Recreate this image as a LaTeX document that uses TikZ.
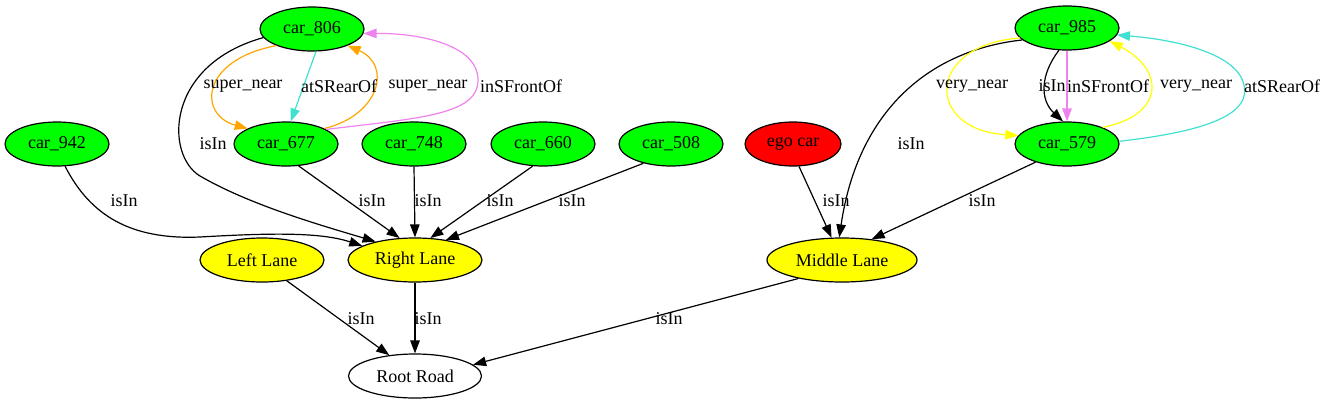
\documentclass[tikz,border=0pt]{standalone}
\usepackage{fontspec}
\setmainfont{Liberation Serif}
\usetikzlibrary{shapes.geometric,arrows.meta}
\definecolor{gvgreen}{HTML}{00FF00}
\definecolor{gvyellow}{HTML}{FFFF00}
\definecolor{gvred}{HTML}{FF0000}
\definecolor{gvorange}{HTML}{FFA500}
\definecolor{gvturq}{HTML}{40E0D0}
\definecolor{gvviolet}{HTML}{EE82EE}
\begin{document}
\begin{tikzpicture}[x=1pt,y=-1pt,
  every node/.style={font=\fontsize{18}{20}\selectfont},
  gnode/.style={ellipse,draw=black,line width=1.2pt,inner sep=0pt,minimum height=44pt,minimum width=104pt},
  car/.style={gnode,fill=gvgreen},
  lane/.style={gnode,fill=gvyellow},
  edge/.style={line width=1.2pt,-{Triangle[length=13pt,width=9.5pt]}},
  lbl/.style={inner sep=0pt}
]
\useasboundingbox (0,0) rectangle (1327,407);
% nodes
\node[car] (n806) at (312,29) {car\_806};
\node[car] (n677) at (286,144) {car\_677};
\node[car] (n748) at (414,144) {car\_748};
\node[car] (n660) at (543,144) {car\_660};
\node[car] (n508) at (671,144) {car\_508};
\node[car] (n942) at (57,144) {car\_942};
\node[gnode,fill=gvred,minimum width=96pt] (ego) at (793,144) {ego car};
\node[car] (n985) at (1067,28) {car\_985};
\node[car] (n579) at (1067,144) {car\_579};
\node[lane,minimum width=124pt] (LL) at (262,260) {Left Lane};
\node[lane,minimum width=134pt] (RL) at (415,260) {Right Lane};
\node[lane,minimum width=150pt] (ML) at (842,260) {Middle Lane};
\node[gnode,fill=white,minimum width=133pt] (RR) at (415,376) {Root Road};
% left cluster edges
\draw[edge,gvorange] (n806.205) .. controls (200,60) and (198,115) .. (n677.158);
\draw[edge,gvturq] (n806.-80) -- (n677.78);
\draw[edge,gvorange] (n677.22) .. controls (380,115) and (392,65) .. (n806.-25);
\draw[edge,gvviolet] (n677.20) .. controls (420,118) and (478,115) .. (478,80) .. controls (478,45) and (420,33) .. (n806.-5);
\draw[edge] (n806.190) .. controls (165,65) and (165,155) .. (200,176) .. controls (250,205) and (320,225) .. (RL.155);
\draw[edge] (n942.-70) .. controls (90,215) and (130,240) .. (200,237) .. controls (270,233) and (320,232) .. (RL.165);
\draw[edge] (n677.-60) -- (RL.125);
\draw[edge] (n748.south) -- (RL.north);
\draw[edge] (n660.-115) -- (RL.55);
\draw[edge] (n508.-145) -- (RL.33);
% right cluster edges
\draw[edge] (ego.-75) -- (ML.115);
\draw[edge] (n985.195) .. controls (930,50) and (858,110) .. (ML.97);
\draw[edge] (n579.-150) -- (ML.35);
\draw[edge] (n985.-110) .. controls (1040,75) and (1040,100) .. (n579.100);
\draw[edge,gvviolet] (n985.south) -- (n579.north);
\draw[edge,gvyellow] (n985.192) .. controls (925,45) and (925,130) .. (n579.170);
\draw[edge,gvyellow] (n579.25) .. controls (1165,115) and (1165,70) .. (n985.-17);
\draw[edge,gvturq] (n579.3) .. controls (1220,130) and (1250,110) .. (1244,85) .. controls (1238,55) and (1180,40) .. (n985.-8);
% bottom edges
\draw[edge] (LL.-40) -- (RR.141);
\draw[edge] (RL.south) -- (RR.north);
\draw[edge] (ML.203) -- (RR.11);
% labels
\node[lbl] (t1) at (243,86) {super\_near};
\node[lbl] (t2) at (339,86) {atSRearOf};
\node[lbl] (t3) at (428,86) {super\_near};
\node[lbl] (t4) at (521,86) {inSFrontOf};
\node[lbl] (t5) at (213,144) {isIn};
\node[lbl] (t6) at (124,201) {isIn};
\node[lbl] (t7) at (372,201) {isIn};
\node[lbl] (t8) at (428,201) {isIn};
\node[lbl] (t9) at (500,201) {isIn};
\node[lbl] (t10) at (572,201) {isIn};
\node[lbl] (t11) at (836,201) {isIn};
\node[lbl] (t12) at (911,144) {isIn};
\node[lbl] (t13) at (982,201) {isIn};
\node[lbl] (t14) at (1052,86) {isIn};
\node[lbl] (t15) at (1108,86) {inSFrontOf};
\node[lbl] (t16) at (972,86) {very\_near};
\node[lbl] (t17) at (1196,86) {very\_near};
\node[lbl] (t18) at (1282,86) {atSRearOf};
\node[lbl] (t19) at (361,319) {isIn};
\node[lbl] (t20) at (428,319) {isIn};
\node[lbl] (t21) at (669,319) {isIn};
\end{tikzpicture}
\end{document}
